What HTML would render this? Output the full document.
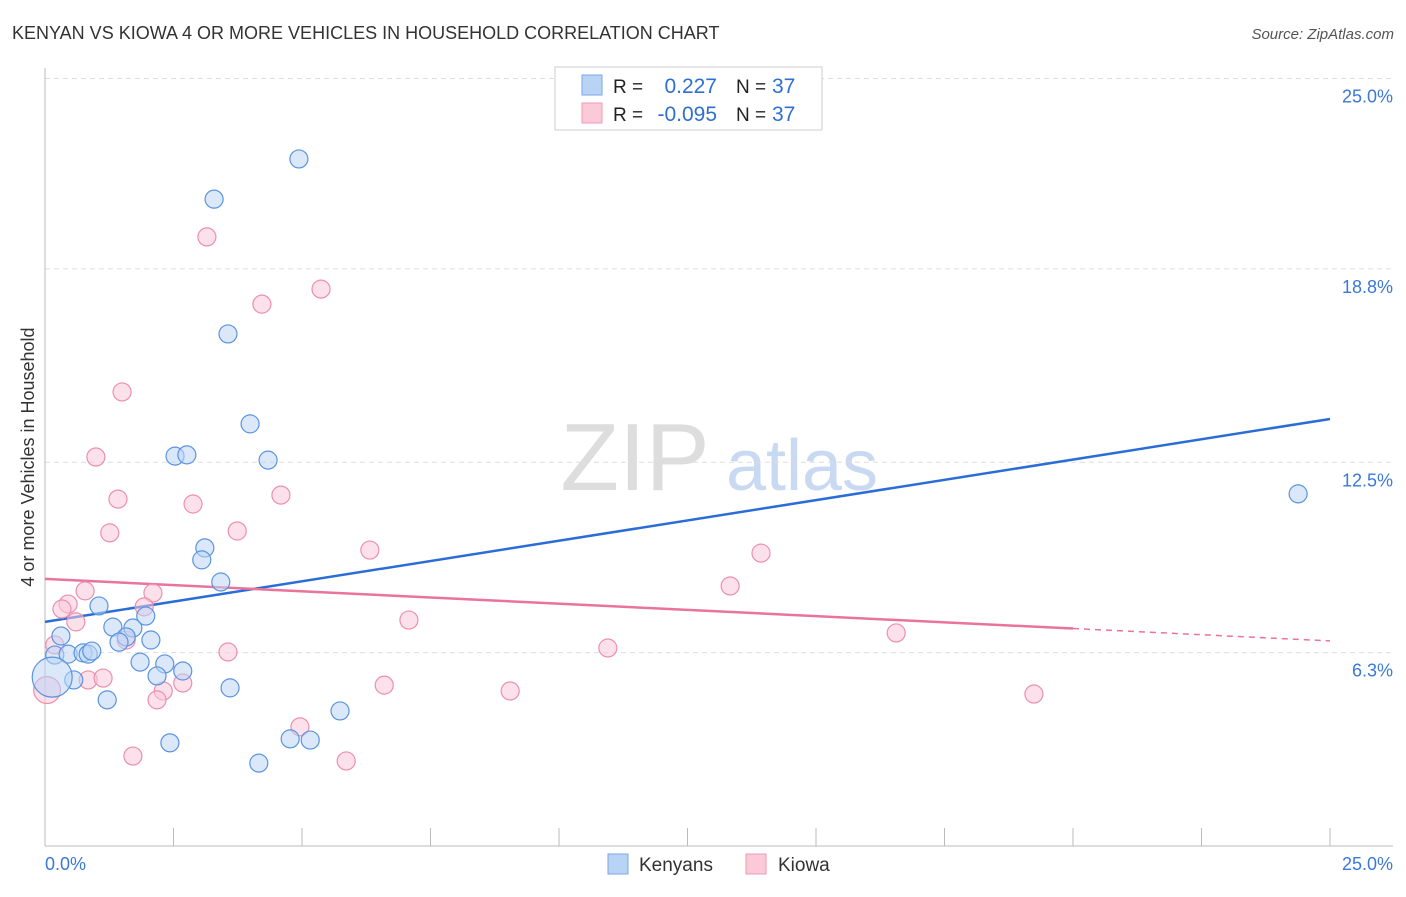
<!DOCTYPE html>
<html><head><meta charset="utf-8"><style>
body{margin:0;background:#fff;font-family:"Liberation Sans",sans-serif;}
svg text{font-family:"Liberation Sans",sans-serif;}
</style></head><body>
<svg id="chart" width="1406" height="892" xmlns="http://www.w3.org/2000/svg">
<text x="12" y="39" font-size="18" fill="#333">KENYAN VS KIOWA 4 OR MORE VEHICLES IN HOUSEHOLD CORRELATION CHART</text>
<text x="1394" y="39" font-size="15" fill="#555" font-style="italic" text-anchor="end">Source: ZipAtlas.com</text>
<text transform="translate(34,457) rotate(-90)" font-size="18" fill="#333" text-anchor="middle">4 or more Vehicles in Household</text>
<g>
<text x="635" y="490" font-size="96" fill="#ddd" font-family="Liberation Serif" text-anchor="middle">ZIP</text>
<text x="802" y="490" font-size="72" fill="#c9d9f1" text-anchor="middle">atlas</text>
</g>
<g id="grid"></g><g id="axes"></g><g id="lines"></g><g id="points"></g>
<g>
<rect x="555" y="67" width="267" height="63" fill="#fff" stroke="#ccc"/>
<rect x="582" y="75" width="20" height="20" fill="#b9d3f5" stroke="#7aa6e6"/>
<rect x="582" y="103" width="20" height="20" fill="#fbc9d8" stroke="#ee9ab5"/>
<text x="613" y="93" font-size="19" fill="#222">R =</text>
<text x="717" y="93" font-size="21" fill="#2f6fd0" text-anchor="end">0.227</text>
<text x="736" y="93" font-size="19" fill="#222">N =</text>
<text x="772" y="93" font-size="21" fill="#2f6fd0">37</text>
<text x="613" y="121" font-size="19" fill="#222">R =</text>
<text x="717" y="121" font-size="21" fill="#2f6fd0" text-anchor="end">-0.095</text>
<text x="736" y="121" font-size="19" fill="#222">N =</text>
<text x="772" y="121" font-size="21" fill="#2f6fd0">37</text>
</g>
<g>
<rect x="608" y="854" width="20" height="20" fill="#b9d3f5" stroke="#7aa6e6"/>
<text x="639" y="871" font-size="19" fill="#333">Kenyans</text>
<rect x="746" y="854" width="20" height="20" fill="#fbc9d8" stroke="#ee9ab5"/>
<text x="778" y="871" font-size="19" fill="#333">Kiowa</text>
</g>
</svg>
<script>
const yTicks=[25,18.8,12.5,6.3];
const yTickLabels=["25.0%","18.8%","12.5%","6.3%"];
const xTickVals=[0,2.5,5,7.5,10,12.5,15,17.5,20,22.5,25];
const kenX=[4.94,3.29,3.56,3.99,2.53,2.76,4.34,24.38,3.11,3.05,3.42,1.05,1.32,1.71,1.96,1.58,1.44,2.06,0.31,0.19,0.45,0.74,0.84,0.91,1.85,2.33,2.18,2.68,0.56,0.14,3.60,1.21,5.74,4.77,5.16,2.43,4.16];
const kenY=[22.38,21.07,16.68,13.75,12.70,12.74,12.57,11.47,9.71,9.32,8.60,7.82,7.13,7.10,7.49,6.81,6.64,6.71,6.84,6.22,6.25,6.29,6.25,6.35,5.99,5.93,5.54,5.70,5.41,5.50,5.15,4.76,4.40,3.49,3.45,3.36,2.70];
const kenW=[1,1,1,1,1,1,1,1,1,1,1,1,1,1,1,1,1,1,1,1,1,1,1,1,1,1,1,1,1,5,1,1,1,1,1,1,1];
const kioX=[3.15,5.37,4.22,1.50,0.99,1.42,4.59,2.88,1.26,3.74,6.32,13.93,13.33,0.78,2.10,0.45,0.33,1.93,0.60,7.08,16.56,1.58,0.19,3.56,10.95,0.84,1.13,2.68,2.30,6.60,2.18,9.05,19.24,0.04,4.96,1.71,5.86];
const kioY=[19.84,18.14,17.65,14.79,12.67,11.30,11.43,11.14,10.20,10.26,9.64,9.54,8.47,8.31,8.24,7.88,7.72,7.79,7.30,7.36,6.94,6.71,6.55,6.32,6.45,5.41,5.47,5.31,5.05,5.24,4.76,5.05,4.95,2.2,3.88,2.93,2.77];
kioY[33]=5.08;
const kioW=[1,1,1,1,1,1,1,1,1,1,1,1,1,1,1,1,1,1,1,1,1,1,1,1,1,1,1,1,1,1,1,1,1,2,1,1,1];
const kenTrend=[7.30,13.91];
const kioTrend=[8.70,6.68];
const NS='http://www.w3.org/2000/svg';
const X=v=>45+v*51.4, Y=v=>846-v*30.7;
function mk(p,t,a){const e=document.createElementNS(NS,t);for(const k in a)e.setAttribute(k,a[k]);p.appendChild(e);return e;}
const grid=document.getElementById('grid'),axes=document.getElementById('axes'),lines=document.getElementById('lines'),pts=document.getElementById('points');
yTicks.forEach((t,i)=>{
 const l=mk(grid,'line',{x1:45,x2:1393,y1:Y(t),y2:Y(t),stroke:'#ddd','stroke-dasharray':'5,4'});
 
 
 const tx=mk(axes,'text',{x:1393,y:Y(t)+24,'font-size':18,fill:'#3b78d8','text-anchor':'end'});
 tx.textContent=yTickLabels[i];
 
 
});
const al=mk(axes,'line',{x1:45,x2:45,y1:68,y2:846,stroke:'#bbb'});


const bl=mk(axes,'line',{x1:45,x2:1393,y1:846,y2:846,stroke:'#bbb'});


xTickVals.forEach(v=>{const t=mk(axes,'line',{x1:X(v),x2:X(v),y1:828,y2:846,stroke:'#bbb'});
 
 });
[[0,'0.0%','start',45],[25,'25.0%','end',1393]].forEach(d=>{const t=mk(axes,'text',{x:d[3],y:870,'font-size':18,fill:'#3b78d8','text-anchor':d[2]});t.textContent=d[1];
 
 });
function dots(xs,ys,ws,fill,stroke,name){xs.forEach((x,i)=>{const c=mk(pts,'circle',{cx:X(x),cy:Y(ys[i]),r:ws[i]>1?9+ws[i]*2.2:9,fill:fill,'fill-opacity':0.55,stroke:stroke,'stroke-width':1.2});
 
 });}
dots(kioX,kioY,kioW,'#fbc9d8','#ec8fae','kiowa-point');
dots(kenX,kenY,kenW,'#bcd5f5','#5b93e0','kenyan-point');
const lb=mk(lines,'line',{x1:X(0),y1:Y(kenTrend[0]),x2:X(25),y2:Y(kenTrend[1]),stroke:'#2a6dd6','stroke-width':2.5});


const k20=kioTrend[0]+(kioTrend[1]-kioTrend[0])*0.8;
const lp=mk(lines,'line',{x1:X(0),y1:Y(kioTrend[0]),x2:X(20),y2:Y(k20),stroke:'#e9739a','stroke-width':2.5});


const lpd=mk(lines,'line',{x1:X(20),y1:Y(k20),x2:X(25),y2:Y(kioTrend[1]),stroke:'#e9739a','stroke-width':1.5,'stroke-dasharray':'6,5'});


</script>
</body></html>
